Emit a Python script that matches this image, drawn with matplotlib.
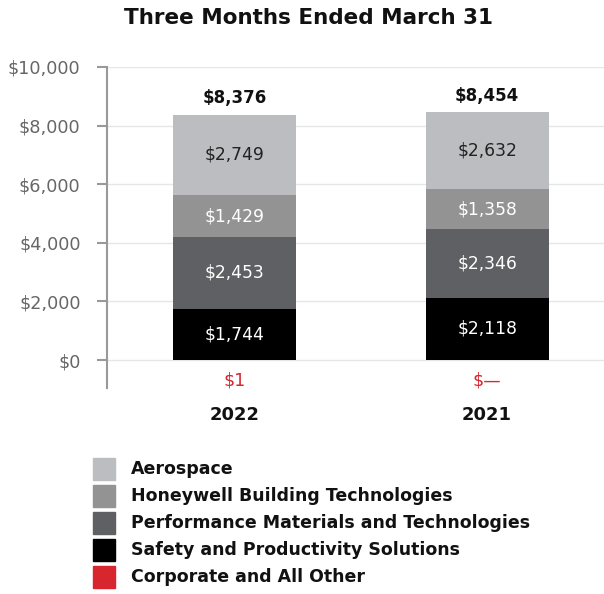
import matplotlib.pyplot as plt
from matplotlib.patches import Rectangle

years = ["2022", "2021"]
segments = [
    "Safety and Productivity Solutions",
    "Performance Materials and Technologies",
    "Honeywell Building Technologies",
    "Aerospace",
]
sps = [1744, 2118]
pmt = [2453, 2346]
hbt = [1429, 1358]
aero = [2749, 2632]
totals = [8376, 8454]
corporate_labels = ["$1", "$\u2014"]

colors = {
    "Aerospace": "#bcbdc0",
    "Honeywell Building Technologies": "#939393",
    "Performance Materials and Technologies": "#5f6063",
    "Safety and Productivity Solutions": "#000000",
    "Corporate and All Other": "#d7262e",
}
text_colors = ["white", "white", "white", "#222222"]

plt.rcParams["font.family"] = ["DejaVu Sans"]

fig = plt.figure(figsize=(6.04, 5.94), dpi=100, facecolor="white")
ax = fig.add_axes([107 / 604, 1 - 388 / 594, 1 - 107 / 604, (388 - 67) / 594])

x = [0, 1]
width = 0.487
bottoms = [0, 0]
for name, vals, tc in zip(segments, [sps, pmt, hbt, aero], text_colors):
    ax.bar(x, vals, width, bottom=bottoms, color=colors[name], zorder=3)
    for xi, b, v in zip(x, bottoms, vals):
        ax.text(xi, b + v / 2, f"${v:,}", ha="center", va="center",
                color=tc, fontsize=12.3, zorder=4)
    bottoms = [b + v for b, v in zip(bottoms, vals)]

for xi, t in zip(x, totals):
    ax.text(xi, t + 250, f"${t:,}", ha="center", va="bottom",
            fontsize=12, fontweight="bold", color="#111111")

ax.set_xlim(-0.505, 1.463)
ax.set_ylim(-955, 10000)
ax.set_yticks(range(0, 10001, 2000))
ax.set_yticklabels([f"${v:,}" for v in range(0, 10001, 2000)])
ax.tick_params(axis="y", colors="#999999", labelcolor="#666666",
               labelsize=12.7, length=7, width=1.5, pad=12)
ax.set_xticks([])
ax.grid(axis="y", color="#e6e6e6", linewidth=1, zorder=0)
for s in ["top", "right", "bottom"]:
    ax.spines[s].set_visible(False)
ax.spines["left"].set_color("#999999")
ax.spines["left"].set_linewidth(1.5)

for xi, lab, yr in zip(x, corporate_labels, years):
    ax.text(xi, -690, lab, ha="center", va="center", fontsize=12.5,
            color=colors["Corporate and All Other"], clip_on=False)
    ax.text(xi, -1860, yr, ha="center", va="center", fontsize=13,
            fontweight="bold", color="#111111", clip_on=False)

fig.text(309 / 604, 1 - 18 / 594, "Three Months Ended March 31", ha="center",
         va="center", fontsize=15.5, fontweight="bold", color="#111111")

legend_names = [
    "Aerospace",
    "Honeywell Building Technologies",
    "Performance Materials and Technologies",
    "Safety and Productivity Solutions",
    "Corporate and All Other",
]
for i, name in enumerate(legend_names):
    yc = 469 + i * 27
    fig.patches.append(Rectangle((93 / 604, 1 - (yc + 11) / 594), 22 / 604, 22 / 594,
                                 transform=fig.transFigure, color=colors[name]))
    fig.text(131 / 604, 1 - yc / 594, name, ha="left", va="center",
             fontsize=12.5, fontweight="bold", color="#111111")

fig.savefig("out.png", dpi=100, facecolor="white")
